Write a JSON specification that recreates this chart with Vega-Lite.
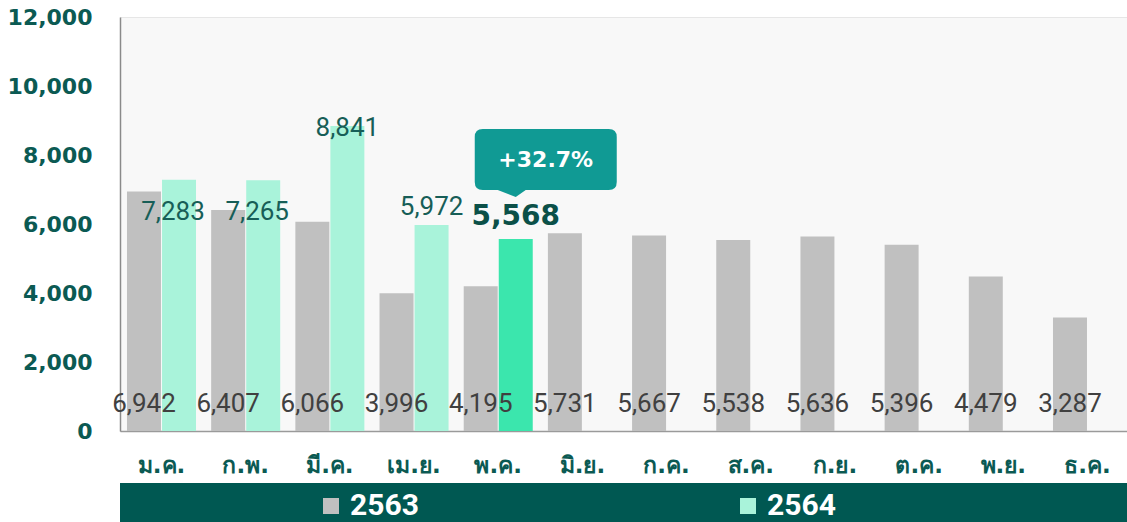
{
  "$schema": "https://vega.github.io/schema/vega-lite/v6.json",
  "autosize": {"type": "none"},
  "padding": {"left": 120, "top": 17, "right": 0, "bottom": 91},
  "width": 1009,
  "height": 414,
  "background": "white",
  "config": {
    "view": {"stroke": "#e6e6e6", "fill": "#f8f8f8"},
    "font": "Roboto"
  },
  "datasets": {
    "sales": [
      {"month": "ม.ค.", "year": "2563", "value": 6942},
      {"month": "ก.พ.", "year": "2563", "value": 6407},
      {"month": "มี.ค.", "year": "2563", "value": 6066},
      {"month": "เม.ย.", "year": "2563", "value": 3996},
      {"month": "พ.ค.", "year": "2563", "value": 4195},
      {"month": "มิ.ย.", "year": "2563", "value": 5731},
      {"month": "ก.ค.", "year": "2563", "value": 5667},
      {"month": "ส.ค.", "year": "2563", "value": 5538},
      {"month": "ก.ย.", "year": "2563", "value": 5636},
      {"month": "ต.ค.", "year": "2563", "value": 5396},
      {"month": "พ.ย.", "year": "2563", "value": 4479},
      {"month": "ธ.ค.", "year": "2563", "value": 3287},
      {"month": "ม.ค.", "year": "2564", "value": 7283},
      {"month": "ก.พ.", "year": "2564", "value": 7265},
      {"month": "มี.ค.", "year": "2564", "value": 8841},
      {"month": "เม.ย.", "year": "2564", "value": 5972},
      {"month": "พ.ค.", "year": "2564", "value": 5568, "note": "+32.7%"}
    ]
  },
  "layer": [
    {
      "data": {"values": [{}]},
      "mark": {"type": "rect", "color": "#005852"},
      "encoding": {
        "y": {"datum": -1510, "type": "quantitative", "scale": {"domain": [0, 12000]}},
        "y2": {"datum": -2700}
      }
    },
    {
      "data": {"name": "sales"},
      "encoding": {
        "x": {
          "field": "month",
          "type": "nominal",
          "sort": ["ม.ค.", "ก.พ.", "มี.ค.", "เม.ย.", "พ.ค.", "มิ.ย.", "ก.ค.", "ส.ค.", "ก.ย.", "ต.ค.", "พ.ย.", "ธ.ค."],
          "scale": {"paddingInner": 0.18, "paddingOuter": 0.083},
          "axis": {
            "title": null,
            "labelAngle": 0,
            "ticks": false,
            "domainColor": "#9a9a9a",
            "domainWidth": 1.5,
            "labelPadding": 23,
            "labelFont": "DejaVu Sans",
            "labelFontSize": 23,
            "labelFontWeight": "bold",
            "labelColor": "#0b5a53"
          }
        },
        "xOffset": {"field": "year", "type": "nominal", "scale": {"paddingInner": 0.03}},
        "y": {
          "field": "value",
          "type": "quantitative",
          "scale": {"domain": [0, 12000]},
          "axis": {
            "title": null,
            "values": [0, 2000, 4000, 6000, 8000, 10000, 12000],
            "format": ",.0f",
            "ticks": false,
            "domainColor": "#8a8a8a",
            "domainWidth": 1.5,
            "gridColor": "#ebebeb",
            "labelPadding": 28,
            "labelFont": "DejaVu Sans",
            "labelFontSize": 22,
            "labelFontWeight": "bold",
            "labelColor": "#0b5a53"
          }
        }
      },
      "layer": [
        {
          "mark": {"type": "bar"},
          "encoding": {
            "color": {
              "condition": {"test": "datum.month == 'พ.ค.' && datum.year == '2564'", "value": "#3be6ad"},
              "field": "year",
              "type": "nominal",
              "scale": {"domain": ["2563", "2564"], "range": ["#c0c0c0", "#a9f3da"]},
              "legend": {
                "title": null,
                "orient": "none",
                "direction": "horizontal",
                "legendX": 196,
                "legendY": 474,
                "padding": 0,
                "columnPadding": 314,
                "symbolType": "square",
                "symbolSize": 256,
                "symbolStrokeWidth": 0,
                "labelOffset": 4,
                "labelColor": "white",
                "labelFont": "Roboto",
                "labelFontSize": 30,
                "labelFontWeight": "bold"
              }
            }
          }
        },
        {
          "transform": [{"filter": "datum.year == '2563'"}],
          "mark": {"type": "text", "baseline": "middle", "dy": -27, "fontSize": 26, "color": "#404040"},
          "encoding": {
            "y": {"datum": 0},
            "text": {"field": "value", "type": "quantitative", "format": ","}
          }
        },
        {
          "transform": [{"filter": "datum.year == '2564' && (datum.month == 'ม.ค.' || datum.month == 'ก.พ.')"}],
          "mark": {"type": "text", "baseline": "middle", "dy": 32, "dx": -6, "fontSize": 26, "color": "#175e57"},
          "encoding": {"text": {"field": "value", "type": "quantitative", "format": ","}}
        },
        {
          "transform": [{"filter": "datum.year == '2564' && datum.month == 'มี.ค.'"}],
          "mark": {"type": "text", "baseline": "middle", "dy": 2, "fontSize": 26, "color": "#175e57"},
          "encoding": {"text": {"field": "value", "type": "quantitative", "format": ","}}
        },
        {
          "transform": [{"filter": "datum.year == '2564' && datum.month == 'เม.ย.'"}],
          "mark": {"type": "text", "baseline": "middle", "dy": -18, "fontSize": 26, "color": "#175e57"},
          "encoding": {"text": {"field": "value", "type": "quantitative", "format": ","}}
        },
        {
          "transform": [{"filter": "datum.year == '2564' && datum.month == 'พ.ค.'"}],
          "mark": {"type": "text", "baseline": "middle", "dy": -22, "font": "DejaVu Sans", "fontSize": 28, "fontWeight": "bold", "color": "#0b5048"},
          "encoding": {"text": {"field": "value", "type": "quantitative", "format": ","}}
        },
        {
          "transform": [{"filter": "isValid(datum.note)"}],
          "mark": {
            "type": "point",
            "filled": true,
            "opacity": 1,
            "size": 40000,
            "strokeWidth": 0,
            "color": "#109a94",
            "yOffset": -42,
            "shape": "M -0.33 -0.68 L 0.93 -0.68 Q 1.01 -0.68 1.01 -0.6 L 1.01 -0.15 Q 1.01 -0.07 0.93 -0.07 L 0.1 -0.07 L 0 0 L -0.18 -0.07 L -0.33 -0.07 Q -0.41 -0.07 -0.41 -0.15 L -0.41 -0.6 Q -0.41 -0.68 -0.33 -0.68 Z"
          },
          "encoding": {}
        },
        {
          "transform": [{"filter": "isValid(datum.note)"}],
          "mark": {"type": "text", "baseline": "middle", "dx": 30, "dy": -79, "font": "DejaVu Sans", "fontSize": 22, "fontWeight": "bold", "color": "white"},
          "encoding": {"text": {"field": "note", "type": "nominal"}}
        }
      ]
    }
  ]
}
